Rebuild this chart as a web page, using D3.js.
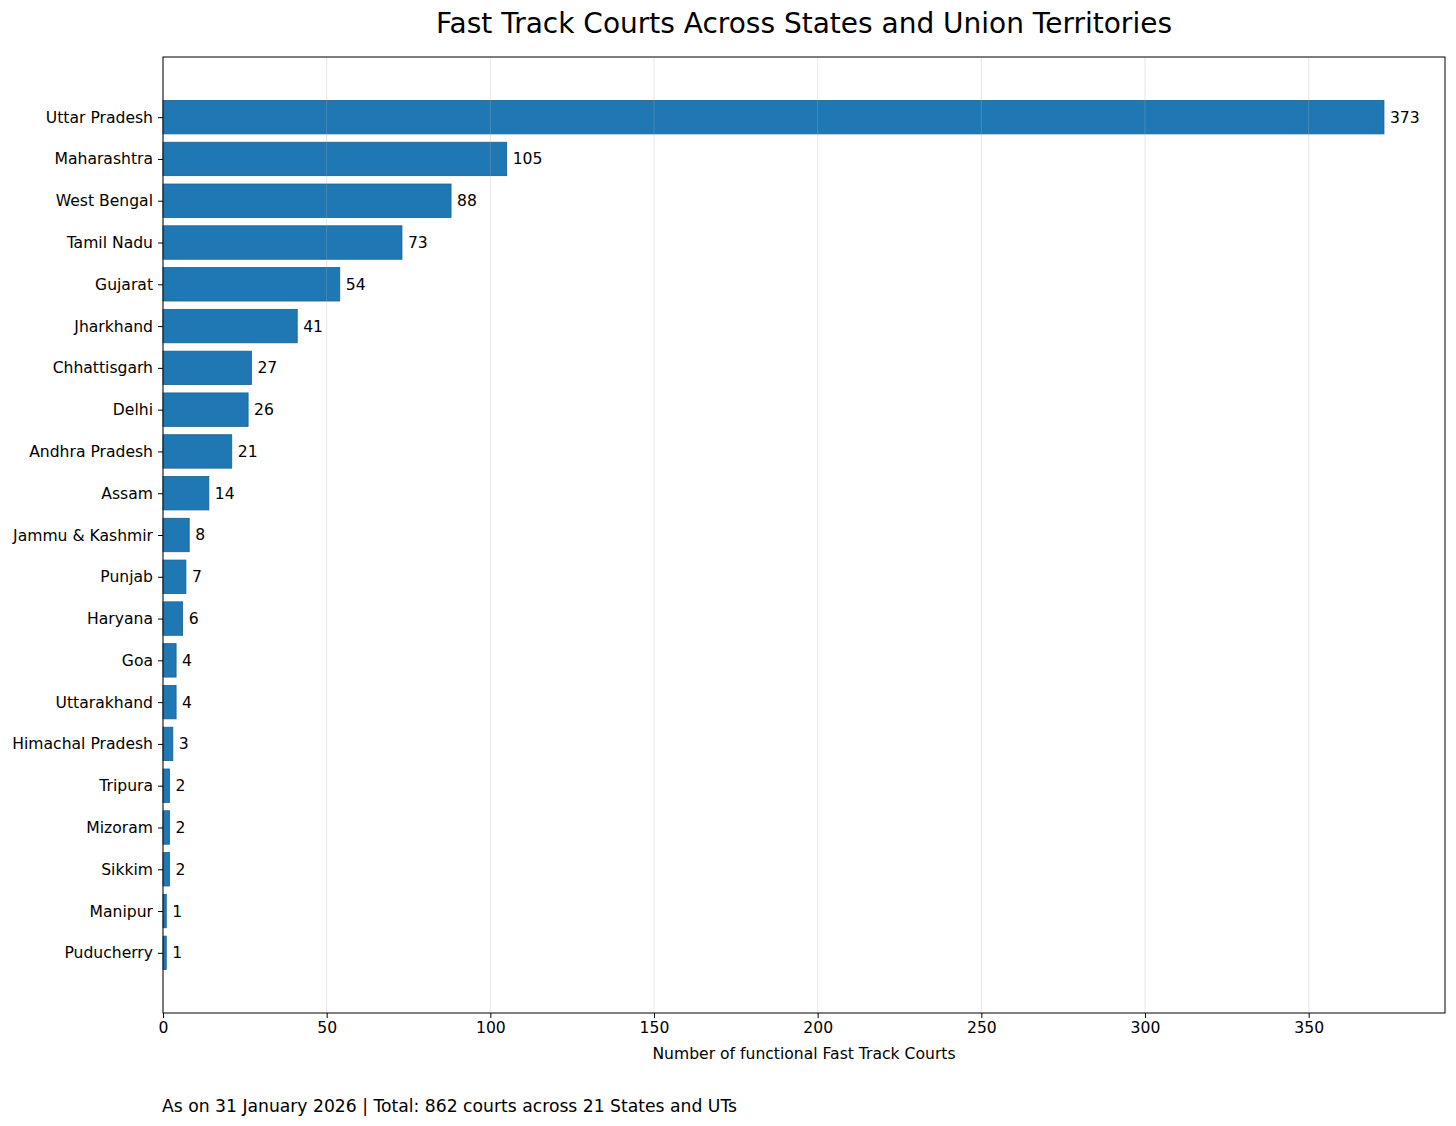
<!DOCTYPE html>
<html>
<head>
<meta charset="utf-8">
<script src="https://cdn.jsdelivr.net/npm/d3@7/dist/d3.min.js"></script>
<style>
body { margin:0; background:#fff; }
svg text { font-family: "DejaVu Sans", sans-serif; fill:#000; }
</style>
</head>
<body>
<svg id="chart" width="1456" height="1126"></svg>
<script>
const categories = ["Uttar Pradesh","Maharashtra","West Bengal","Tamil Nadu","Gujarat","Jharkhand","Chhattisgarh","Delhi","Andhra Pradesh","Assam","Jammu & Kashmir","Punjab","Haryana","Goa","Uttarakhand","Himachal Pradesh","Tripura","Mizoram","Sikkim","Manipur","Puducherry"];
const values = [373,105,88,73,54,41,27,26,21,14,8,7,6,4,4,3,2,2,2,1,1];
const xTicks = [0,50,100,150,200,250,300,350];
const title = "Fast Track Courts Across States and Union Territories";
const xLabel = "Number of functional Fast Track Courts";
const footnote = "As on 31 January 2026 | Total: 862 courts across 21 States and UTs";

const svg = d3.select("#chart");
const m = {left:163, right:1445, top:57, bottom:1013};
const maxV = d3.max(values);
const x = d3.scaleLinear().domain([0, maxV*1.05]).range([m.left, m.right]);
const n = categories.length;
const y = d3.scaleLinear().domain([-0.4 - 0.05*(n-1+0.8), n-1+0.4 + 0.05*(n-1+0.8)]).range([m.top, m.bottom]);
const barH = y(0.8) - y(0);
const fs = "15.6px";

// bars
svg.append("g").selectAll("rect").data(values).join("rect")
  .attr("x", x(0))
  .attr("y", (d,i)=>y(i-0.4))
  .attr("width", d=>x(d)-x(0))
  .attr("height", barH)
  .attr("fill", "#1f77b4")
  .attr("stroke", "#1a5f90")
  .attr("stroke-width", 0.8);

// grid over bars
svg.append("g").selectAll("line").data(xTicks).join("line")
  .attr("x1", d=>x(d)).attr("x2", d=>x(d))
  .attr("y1", m.top).attr("y2", m.bottom)
  .attr("stroke", "#b0b0b0").attr("stroke-opacity", 0.3).attr("stroke-width", 1);

// value labels
svg.append("g").selectAll("text").data(values).join("text")
  .attr("x", d=>x(d)+6)
  .attr("y", (d,i)=>y(i))
  .attr("dy", "0.35em")
  .attr("font-size", fs)
  .text(d=>d);

// frame
svg.append("rect").attr("x", m.left).attr("y", m.top)
  .attr("width", m.right-m.left).attr("height", m.bottom-m.top)
  .attr("fill","none").attr("stroke","#000").attr("stroke-width",1);

// x axis
const xAxis = d3.axisBottom(x).tickValues(xTicks).tickSize(5).tickPadding(4);
const gx = svg.append("g").attr("transform", `translate(0,${m.bottom})`).call(xAxis);
gx.select(".domain").remove();
gx.selectAll("text").attr("font-size",fs).attr("font-family","DejaVu Sans");
gx.selectAll("line").attr("stroke","#000");

// y axis
const yAxis = d3.axisLeft(y).tickValues(d3.range(n)).tickFormat(i=>categories[i]).tickSize(5).tickPadding(5);
const gy = svg.append("g").attr("transform", `translate(${m.left},0)`).call(yAxis);
gy.select(".domain").remove();
gy.selectAll("text").attr("font-size",fs).attr("font-family","DejaVu Sans");
gy.selectAll("line").attr("stroke","#000");

// title
svg.append("text").attr("x", (m.left+m.right)/2).attr("y", 33)
  .attr("text-anchor","middle").attr("font-size","28px").text(title);

// x label
svg.append("text").attr("x", (m.left+m.right)/2).attr("y", 1059)
  .attr("text-anchor","middle").attr("font-size",fs).text(xLabel);

// footnote
svg.append("text").attr("x", 162).attr("y", 1112)
  .attr("font-size","17.2px").text(footnote);
</script>
</body>
</html>
